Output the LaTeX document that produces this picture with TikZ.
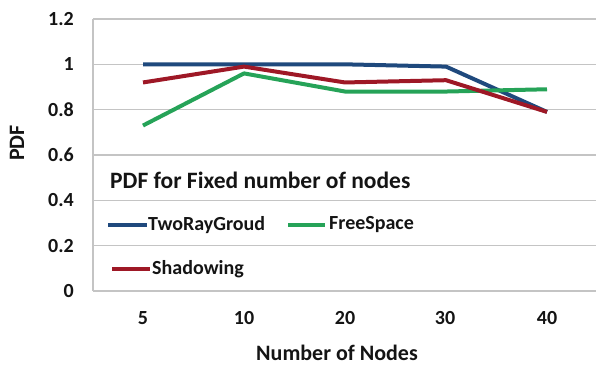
\documentclass[tikz,border=0pt]{standalone}
\usepackage{fontspec}
\setmainfont{Carlito}
\usepackage{xcolor}
\definecolor{LineBlue}{RGB}{31,73,125}
\definecolor{LineGreen}{RGB}{38,163,88}
\definecolor{LineRed}{RGB}{158,24,38}
\definecolor{GridGray}{RGB}{196,196,196}
\definecolor{TextBlack}{RGB}{20,20,20}
\usepackage{tikz}
\usetikzlibrary{positioning}
\tikzset{
  % Tick labels
  ticklbl/.style={
    font=\fontsize{20}{20}\selectfont\bfseries,
    text=TextBlack, inner sep=0pt
  },
  % Axis titles and chart title
  axislbl/.style={ticklbl, font=\fontsize{22}{22}\selectfont\bfseries},
  titlelbl/.style={ticklbl, font=\fontsize{23.5}{23.5}\selectfont\bfseries},
  % Legend text
  legtxt/.style={ticklbl, anchor=west},
  % Grid lines
  gridln/.style={GridGray, line width=1.2pt},
  % Data series
  series/.style={line width=4pt, line join=round},
}

\begin{document}
\begin{tikzpicture}[x=1pt, y=-1pt]

  \useasboundingbox (0,0) rectangle (596,367);

  %% Plot area frame and grid
  \foreach \gy in {19,64.3,109.7,155,200.3,245.7,291}
    \draw[gridln] (93,\gy) -- (596,\gy);
  \draw[gridln] (93,19) -- (93,291);

  %% Y tick labels
  \node[ticklbl, anchor=east] (y12) at (74,19)    {1.2};
  \node[ticklbl, anchor=east] (y10) at (74,64.3)  {1};
  \node[ticklbl, anchor=east] (y08) at (74,109.7) {0.8};
  \node[ticklbl, anchor=east] (y06) at (74,155)   {0.6};
  \node[ticklbl, anchor=east] (y04) at (74,200.3) {0.4};
  \node[ticklbl, anchor=east] (y02) at (74,245.7) {0.2};
  \node[ticklbl, anchor=east] (y00) at (74,291)   {0};

  %% X tick labels
  \node[ticklbl] (x05) at (143,318) {5};
  \node[ticklbl] (x10) at (244,318) {10};
  \node[ticklbl] (x20) at (345,318) {20};
  \node[ticklbl] (x30) at (445,318) {30};
  \node[ticklbl] (x40) at (547,318) {40};

  %% Axis titles
  \node[axislbl, rotate=90] (ytitle) at (17,143) {PDF};
  \node[axislbl] (xtitle) at (337,353) {Number of Nodes};

  %% Chart title
  \node[titlelbl, anchor=west] (title) at (110,180) {PDF for Fixed number of nodes};

  %% Data
  \begin{scope}[shift={(42pt,-291pt)}, x=101pt, y=226.67pt]
    \draw[series, LineBlue]  plot coordinates {(1,1) (2,1) (3,1) (4,0.99) (5,0.79)};
    \draw[series, LineGreen] plot coordinates {(1,0.73) (2,0.96) (3,0.88) (4,0.88) (5,0.89)};
    \draw[series, LineRed]   plot coordinates {(1,0.92) (2,0.99) (3,0.92) (4,0.93) (5,0.79)};
  \end{scope}

  %% Legend
  \coordinate (legA) at (108,225);
  \coordinate (legB) at (288,225);
  \coordinate (legC) at (112,269);
  \draw[series, LineBlue]  (legA) -- ++(39,0) coordinate (legAend);
  \draw[series, LineGreen] (legB) -- ++(37,0) coordinate (legBend);
  \draw[series, LineRed]   (legC) -- ++(38,0) coordinate (legCend);
  \node[legtxt, right=1pt of legAend] (legAtxt) {TwoRayGroud};
  \node[legtxt, right=4pt of legBend] (legBtxt) {FreeSpace};
  \node[legtxt, right=2pt of legCend] (legCtxt) {Shadowing};

\end{tikzpicture}
\end{document}
